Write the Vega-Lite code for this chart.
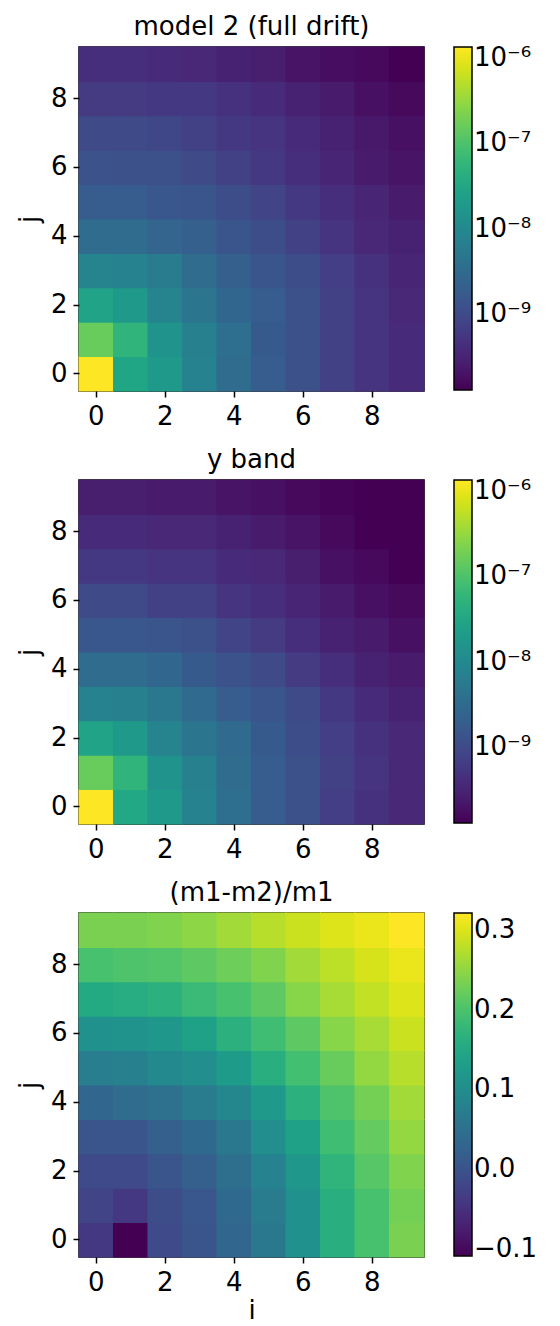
{
  "$schema": "https://vega.github.io/schema/vega-lite/v6.json",
  "padding": {"left": 15, "top": 13, "right": 5, "bottom": 2},
  "config": {
    "font": "DejaVu Sans",
    "view": {"stroke": "#000", "strokeWidth": 1.5},
    "axis": {"domain": false, "grid": false, "tickColor": "#000", "tickSize": 6, "tickWidth": 1.5, "labelFontSize": 26, "labelColor": "#000", "labelPadding": 6, "titleFontSize": 26, "titleFontWeight": "normal", "titleColor": "#000", "titlePadding": 8},
    "axisX": {"titlePadding": 2},
    "title": {"fontSize": 26, "fontWeight": "normal", "color": "#000", "offset": 6, "anchor": "middle"},
    "legend": {"gradientLength": 343, "gradientThickness": 18, "gradientStrokeColor": "#000", "gradientStrokeWidth": 1.5, "labelFontSize": 26, "labelColor": "#000", "labelOffset": 11, "offset": 30, "padding": 0, "titlePadding": 0}
  },
  "datasets": {
    "model2": [
      {"i": 0, "j": 0, "v": 1.34e-6}, {"i": 1, "j": 0, "v": 3.04e-8}, {"i": 2, "j": 0, "v": 1.91e-8}, {"i": 3, "j": 0, "v": 7.61e-9}, {"i": 4, "j": 0, "v": 3.31e-9}, {"i": 5, "j": 0, "v": 1.90e-9}, {"i": 6, "j": 0, "v": 1.20e-9}, {"i": 7, "j": 0, "v": 7.55e-10}, {"i": 8, "j": 0, "v": 5.22e-10}, {"i": 9, "j": 0, "v": 3.95e-10},
      {"i": 0, "j": 1, "v": 1.60e-7}, {"i": 1, "j": 1, "v": 5.30e-8}, {"i": 2, "j": 1, "v": 1.45e-8}, {"i": 3, "j": 1, "v": 6.94e-9}, {"i": 4, "j": 1, "v": 3.63e-9}, {"i": 5, "j": 1, "v": 1.73e-9}, {"i": 6, "j": 1, "v": 1.20e-9}, {"i": 7, "j": 1, "v": 7.55e-10}, {"i": 8, "j": 1, "v": 5.22e-10}, {"i": 9, "j": 1, "v": 3.95e-10},
      {"i": 0, "j": 2, "v": 2.77e-8}, {"i": 1, "j": 2, "v": 1.91e-8}, {"i": 2, "j": 2, "v": 8.34e-9}, {"i": 3, "j": 2, "v": 4.80e-9}, {"i": 4, "j": 2, "v": 2.75e-9}, {"i": 5, "j": 2, "v": 1.90e-9}, {"i": 6, "j": 2, "v": 1.20e-9}, {"i": 7, "j": 2, "v": 7.55e-10}, {"i": 8, "j": 2, "v": 5.22e-10}, {"i": 9, "j": 2, "v": 3.61e-10},
      {"i": 0, "j": 3, "v": 8.34e-9}, {"i": 1, "j": 3, "v": 7.61e-9}, {"i": 2, "j": 3, "v": 5.77e-9}, {"i": 3, "j": 3, "v": 3.31e-9}, {"i": 4, "j": 3, "v": 2.09e-9}, {"i": 5, "j": 3, "v": 1.44e-9}, {"i": 6, "j": 3, "v": 1.09e-9}, {"i": 7, "j": 3, "v": 6.89e-10}, {"i": 8, "j": 3, "v": 4.76e-10}, {"i": 9, "j": 3, "v": 3.29e-10},
      {"i": 0, "j": 4, "v": 3.31e-9}, {"i": 1, "j": 4, "v": 3.31e-9}, {"i": 2, "j": 4, "v": 2.51e-9}, {"i": 3, "j": 4, "v": 2.09e-9}, {"i": 4, "j": 4, "v": 1.44e-9}, {"i": 5, "j": 4, "v": 1.09e-9}, {"i": 6, "j": 4, "v": 7.55e-10}, {"i": 7, "j": 4, "v": 5.22e-10}, {"i": 8, "j": 4, "v": 3.61e-10}, {"i": 9, "j": 4, "v": 3.00e-10},
      {"i": 0, "j": 5, "v": 1.90e-9}, {"i": 1, "j": 5, "v": 1.90e-9}, {"i": 2, "j": 5, "v": 1.58e-9}, {"i": 3, "j": 5, "v": 1.44e-9}, {"i": 4, "j": 5, "v": 1.09e-9}, {"i": 5, "j": 5, "v": 8.28e-10}, {"i": 6, "j": 5, "v": 5.73e-10}, {"i": 7, "j": 5, "v": 4.34e-10}, {"i": 8, "j": 5, "v": 3.29e-10}, {"i": 9, "j": 5, "v": 2.49e-10},
      {"i": 0, "j": 6, "v": 1.32e-9}, {"i": 1, "j": 6, "v": 1.20e-9}, {"i": 2, "j": 6, "v": 1.20e-9}, {"i": 3, "j": 6, "v": 9.97e-10}, {"i": 4, "j": 6, "v": 7.55e-10}, {"i": 5, "j": 6, "v": 5.73e-10}, {"i": 6, "j": 6, "v": 4.34e-10}, {"i": 7, "j": 6, "v": 3.29e-10}, {"i": 8, "j": 6, "v": 2.49e-10}, {"i": 9, "j": 6, "v": 2.07e-10},
      {"i": 0, "j": 7, "v": 9.97e-10}, {"i": 1, "j": 7, "v": 9.97e-10}, {"i": 2, "j": 7, "v": 9.09e-10}, {"i": 3, "j": 7, "v": 7.55e-10}, {"i": 4, "j": 7, "v": 5.73e-10}, {"i": 5, "j": 7, "v": 5.22e-10}, {"i": 6, "j": 7, "v": 3.95e-10}, {"i": 7, "j": 7, "v": 3.00e-10}, {"i": 8, "j": 7, "v": 2.28e-10}, {"i": 9, "j": 7, "v": 1.89e-10},
      {"i": 0, "j": 8, "v": 6.28e-10}, {"i": 1, "j": 8, "v": 6.28e-10}, {"i": 2, "j": 8, "v": 5.73e-10}, {"i": 3, "j": 8, "v": 5.73e-10}, {"i": 4, "j": 8, "v": 4.76e-10}, {"i": 5, "j": 8, "v": 3.95e-10}, {"i": 6, "j": 8, "v": 3.00e-10}, {"i": 7, "j": 8, "v": 2.49e-10}, {"i": 8, "j": 8, "v": 1.89e-10}, {"i": 9, "j": 8, "v": 1.57e-10},
      {"i": 0, "j": 9, "v": 4.34e-10}, {"i": 1, "j": 9, "v": 4.34e-10}, {"i": 2, "j": 9, "v": 3.95e-10}, {"i": 3, "j": 9, "v": 3.61e-10}, {"i": 4, "j": 9, "v": 3.00e-10}, {"i": 5, "j": 9, "v": 2.73e-10}, {"i": 6, "j": 9, "v": 2.07e-10}, {"i": 7, "j": 9, "v": 1.72e-10}, {"i": 8, "j": 9, "v": 1.57e-10}, {"i": 9, "j": 9, "v": 1.31e-10}
    ],
    "yband": [
      {"i": 0, "j": 0, "v": 1.34e-6}, {"i": 1, "j": 0, "v": 3.33e-8}, {"i": 2, "j": 0, "v": 1.91e-8}, {"i": 3, "j": 0, "v": 7.61e-9}, {"i": 4, "j": 0, "v": 3.63e-9}, {"i": 5, "j": 0, "v": 1.90e-9}, {"i": 6, "j": 0, "v": 1.20e-9}, {"i": 7, "j": 0, "v": 6.89e-10}, {"i": 8, "j": 0, "v": 4.76e-10}, {"i": 9, "j": 0, "v": 3.61e-10},
      {"i": 0, "j": 1, "v": 1.60e-7}, {"i": 1, "j": 1, "v": 5.30e-8}, {"i": 2, "j": 1, "v": 1.45e-8}, {"i": 3, "j": 1, "v": 6.94e-9}, {"i": 4, "j": 1, "v": 3.31e-9}, {"i": 5, "j": 1, "v": 1.90e-9}, {"i": 6, "j": 1, "v": 1.20e-9}, {"i": 7, "j": 1, "v": 7.55e-10}, {"i": 8, "j": 1, "v": 5.22e-10}, {"i": 9, "j": 1, "v": 3.61e-10},
      {"i": 0, "j": 2, "v": 2.77e-8}, {"i": 1, "j": 2, "v": 1.91e-8}, {"i": 2, "j": 2, "v": 8.34e-9}, {"i": 3, "j": 2, "v": 4.80e-9}, {"i": 4, "j": 2, "v": 3.02e-9}, {"i": 5, "j": 2, "v": 1.73e-9}, {"i": 6, "j": 2, "v": 1.09e-9}, {"i": 7, "j": 2, "v": 6.89e-10}, {"i": 8, "j": 2, "v": 4.76e-10}, {"i": 9, "j": 2, "v": 3.61e-10},
      {"i": 0, "j": 3, "v": 7.61e-9}, {"i": 1, "j": 3, "v": 6.94e-9}, {"i": 2, "j": 3, "v": 5.26e-9}, {"i": 3, "j": 3, "v": 3.02e-9}, {"i": 4, "j": 3, "v": 1.90e-9}, {"i": 5, "j": 3, "v": 1.44e-9}, {"i": 6, "j": 3, "v": 9.97e-10}, {"i": 7, "j": 3, "v": 5.73e-10}, {"i": 8, "j": 3, "v": 3.95e-10}, {"i": 9, "j": 3, "v": 3.00e-10},
      {"i": 0, "j": 4, "v": 3.31e-9}, {"i": 1, "j": 4, "v": 3.31e-9}, {"i": 2, "j": 4, "v": 2.75e-9}, {"i": 3, "j": 4, "v": 1.73e-9}, {"i": 4, "j": 4, "v": 1.32e-9}, {"i": 5, "j": 4, "v": 9.97e-10}, {"i": 6, "j": 4, "v": 6.28e-10}, {"i": 7, "j": 4, "v": 4.34e-10}, {"i": 8, "j": 4, "v": 3.00e-10}, {"i": 9, "j": 4, "v": 2.49e-10},
      {"i": 0, "j": 5, "v": 1.58e-9}, {"i": 1, "j": 5, "v": 1.58e-9}, {"i": 2, "j": 5, "v": 1.44e-9}, {"i": 3, "j": 5, "v": 1.20e-9}, {"i": 4, "j": 5, "v": 8.28e-10}, {"i": 5, "j": 5, "v": 6.28e-10}, {"i": 6, "j": 5, "v": 4.34e-10}, {"i": 7, "j": 5, "v": 3.00e-10}, {"i": 8, "j": 5, "v": 2.49e-10}, {"i": 9, "j": 5, "v": 1.89e-10},
      {"i": 0, "j": 6, "v": 9.97e-10}, {"i": 1, "j": 6, "v": 9.97e-10}, {"i": 2, "j": 6, "v": 7.55e-10}, {"i": 3, "j": 6, "v": 7.55e-10}, {"i": 4, "j": 6, "v": 5.22e-10}, {"i": 5, "j": 6, "v": 4.34e-10}, {"i": 6, "j": 6, "v": 3.29e-10}, {"i": 7, "j": 6, "v": 2.49e-10}, {"i": 8, "j": 6, "v": 1.89e-10}, {"i": 9, "j": 6, "v": 1.57e-10},
      {"i": 0, "j": 7, "v": 5.73e-10}, {"i": 1, "j": 7, "v": 5.73e-10}, {"i": 2, "j": 7, "v": 5.22e-10}, {"i": 3, "j": 7, "v": 5.22e-10}, {"i": 4, "j": 7, "v": 3.95e-10}, {"i": 5, "j": 7, "v": 3.61e-10}, {"i": 6, "j": 7, "v": 2.73e-10}, {"i": 7, "j": 7, "v": 1.89e-10}, {"i": 8, "j": 7, "v": 1.57e-10}, {"i": 9, "j": 7, "v": 1.31e-10},
      {"i": 0, "j": 8, "v": 3.95e-10}, {"i": 1, "j": 8, "v": 3.95e-10}, {"i": 2, "j": 8, "v": 3.61e-10}, {"i": 3, "j": 8, "v": 3.61e-10}, {"i": 4, "j": 8, "v": 3.00e-10}, {"i": 5, "j": 8, "v": 2.49e-10}, {"i": 6, "j": 8, "v": 2.07e-10}, {"i": 7, "j": 8, "v": 1.57e-10}, {"i": 8, "j": 8, "v": 1.31e-10}, {"i": 9, "j": 8, "v": 1.31e-10},
      {"i": 0, "j": 9, "v": 2.73e-10}, {"i": 1, "j": 9, "v": 2.73e-10}, {"i": 2, "j": 9, "v": 2.49e-10}, {"i": 3, "j": 9, "v": 2.49e-10}, {"i": 4, "j": 9, "v": 2.07e-10}, {"i": 5, "j": 9, "v": 1.89e-10}, {"i": 6, "j": 9, "v": 1.57e-10}, {"i": 7, "j": 9, "v": 1.40e-10}, {"i": 8, "j": 9, "v": 1.31e-10}, {"i": 9, "j": 9, "v": 1.31e-10}
    ],
    "reldiff": [
      {"i": 0, "j": 0, "v": -0.040}, {"i": 1, "j": 0, "v": -0.109}, {"i": 2, "j": 0, "v": -0.014}, {"i": 3, "j": 0, "v": 0.003}, {"i": 4, "j": 0, "v": 0.033}, {"i": 5, "j": 0, "v": 0.063}, {"i": 6, "j": 0, "v": 0.106}, {"i": 7, "j": 0, "v": 0.162}, {"i": 8, "j": 0, "v": 0.196}, {"i": 9, "j": 0, "v": 0.235},
      {"i": 0, "j": 1, "v": -0.023}, {"i": 1, "j": 1, "v": -0.040}, {"i": 2, "j": 1, "v": -0.010}, {"i": 3, "j": 1, "v": 0.007}, {"i": 4, "j": 1, "v": 0.037}, {"i": 5, "j": 1, "v": 0.067}, {"i": 6, "j": 1, "v": 0.106}, {"i": 7, "j": 1, "v": 0.162}, {"i": 8, "j": 1, "v": 0.196}, {"i": 9, "j": 1, "v": 0.231},
      {"i": 0, "j": 2, "v": -0.014}, {"i": 1, "j": 2, "v": -0.014}, {"i": 2, "j": 2, "v": 0.003}, {"i": 3, "j": 2, "v": 0.020}, {"i": 4, "j": 2, "v": 0.046}, {"i": 5, "j": 2, "v": 0.080}, {"i": 6, "j": 2, "v": 0.119}, {"i": 7, "j": 2, "v": 0.171}, {"i": 8, "j": 2, "v": 0.209}, {"i": 9, "j": 2, "v": 0.239},
      {"i": 0, "j": 3, "v": 0.003}, {"i": 1, "j": 3, "v": 0.003}, {"i": 2, "j": 3, "v": 0.020}, {"i": 3, "j": 3, "v": 0.037}, {"i": 4, "j": 3, "v": 0.063}, {"i": 5, "j": 3, "v": 0.102}, {"i": 6, "j": 3, "v": 0.136}, {"i": 7, "j": 3, "v": 0.188}, {"i": 8, "j": 3, "v": 0.218}, {"i": 9, "j": 3, "v": 0.252},
      {"i": 0, "j": 4, "v": 0.033}, {"i": 1, "j": 4, "v": 0.042}, {"i": 2, "j": 4, "v": 0.050}, {"i": 3, "j": 4, "v": 0.067}, {"i": 4, "j": 4, "v": 0.089}, {"i": 5, "j": 4, "v": 0.123}, {"i": 6, "j": 4, "v": 0.166}, {"i": 7, "j": 4, "v": 0.201}, {"i": 8, "j": 4, "v": 0.231}, {"i": 9, "j": 4, "v": 0.261},
      {"i": 0, "j": 5, "v": 0.072}, {"i": 1, "j": 5, "v": 0.076}, {"i": 2, "j": 5, "v": 0.093}, {"i": 3, "j": 5, "v": 0.102}, {"i": 4, "j": 5, "v": 0.128}, {"i": 5, "j": 5, "v": 0.162}, {"i": 6, "j": 5, "v": 0.192}, {"i": 7, "j": 5, "v": 0.222}, {"i": 8, "j": 5, "v": 0.252}, {"i": 9, "j": 5, "v": 0.274},
      {"i": 0, "j": 6, "v": 0.106}, {"i": 1, "j": 6, "v": 0.110}, {"i": 2, "j": 6, "v": 0.119}, {"i": 3, "j": 6, "v": 0.136}, {"i": 4, "j": 6, "v": 0.166}, {"i": 5, "j": 6, "v": 0.188}, {"i": 6, "j": 6, "v": 0.214}, {"i": 7, "j": 6, "v": 0.244}, {"i": 8, "j": 6, "v": 0.265}, {"i": 9, "j": 6, "v": 0.287},
      {"i": 0, "j": 7, "v": 0.153}, {"i": 1, "j": 7, "v": 0.158}, {"i": 2, "j": 7, "v": 0.166}, {"i": 3, "j": 7, "v": 0.183}, {"i": 4, "j": 7, "v": 0.196}, {"i": 5, "j": 7, "v": 0.214}, {"i": 6, "j": 7, "v": 0.244}, {"i": 7, "j": 7, "v": 0.265}, {"i": 8, "j": 7, "v": 0.282}, {"i": 9, "j": 7, "v": 0.300},
      {"i": 0, "j": 8, "v": 0.196}, {"i": 1, "j": 8, "v": 0.201}, {"i": 2, "j": 8, "v": 0.205}, {"i": 3, "j": 8, "v": 0.214}, {"i": 4, "j": 8, "v": 0.226}, {"i": 5, "j": 8, "v": 0.239}, {"i": 6, "j": 8, "v": 0.261}, {"i": 7, "j": 8, "v": 0.278}, {"i": 8, "j": 8, "v": 0.295}, {"i": 9, "j": 8, "v": 0.308},
      {"i": 0, "j": 9, "v": 0.235}, {"i": 1, "j": 9, "v": 0.235}, {"i": 2, "j": 9, "v": 0.239}, {"i": 3, "j": 9, "v": 0.248}, {"i": 4, "j": 9, "v": 0.261}, {"i": 5, "j": 9, "v": 0.274}, {"i": 6, "j": 9, "v": 0.287}, {"i": 7, "j": 9, "v": 0.300}, {"i": 8, "j": 9, "v": 0.308}, {"i": 9, "j": 9, "v": 0.321}
    ]
  },
  "spacing": 16,
  "resolve": {"scale": {"color": "independent"}, "legend": {"color": "independent"}},
  "vconcat": [
    {
      "data": {"name": "model2"},
      "title": "model 2 (full drift)",
      "width": 345,
      "height": 344,
      "mark": {"type": "rect", "width": {"band": 1.03}, "height": {"band": 1.03}},
      "encoding": {
        "x": {"field": "i", "type": "ordinal", "scale": {"paddingInner": 0, "paddingOuter": 0}, "axis": {"values": [0, 2, 4, 6, 8], "labelAngle": 0, "title": null}},
        "y": {"field": "j", "type": "ordinal", "sort": "descending", "scale": {"paddingInner": 0, "paddingOuter": 0}, "axis": {"values": [0, 2, 4, 6, 8], "title": "j"}},
        "color": {"field": "v", "type": "quantitative", "scale": {"type": "log", "scheme": "viridis", "domain": [1.31e-10, 1.34e-6]}, "legend": {"title": null, "values": [1e-9, 1e-8, 1e-7, 1e-6], "labelExpr": "datum.value >= 9e-7 ? '10⁻⁶' : datum.value >= 9e-8 ? '10⁻⁷' : datum.value >= 9e-9 ? '10⁻⁸' : '10⁻⁹'"}}
      }
    },
    {
      "data": {"name": "yband"},
      "title": "y band",
      "width": 345,
      "height": 344,
      "mark": {"type": "rect", "width": {"band": 1.03}, "height": {"band": 1.03}},
      "encoding": {
        "x": {"field": "i", "type": "ordinal", "scale": {"paddingInner": 0, "paddingOuter": 0}, "axis": {"values": [0, 2, 4, 6, 8], "labelAngle": 0, "title": null}},
        "y": {"field": "j", "type": "ordinal", "sort": "descending", "scale": {"paddingInner": 0, "paddingOuter": 0}, "axis": {"values": [0, 2, 4, 6, 8], "title": "j"}},
        "color": {"field": "v", "type": "quantitative", "scale": {"type": "log", "scheme": "viridis", "domain": [1.31e-10, 1.34e-6]}, "legend": {"title": null, "values": [1e-9, 1e-8, 1e-7, 1e-6], "labelExpr": "datum.value >= 9e-7 ? '10⁻⁶' : datum.value >= 9e-8 ? '10⁻⁷' : datum.value >= 9e-9 ? '10⁻⁸' : '10⁻⁹'"}}
      }
    },
    {
      "data": {"name": "reldiff"},
      "title": "(m1-m2)/m1",
      "width": 345,
      "height": 344,
      "mark": {"type": "rect", "width": {"band": 1.03}, "height": {"band": 1.03}},
      "encoding": {
        "x": {"field": "i", "type": "ordinal", "scale": {"paddingInner": 0, "paddingOuter": 0}, "axis": {"values": [0, 2, 4, 6, 8], "labelAngle": 0, "title": "i"}},
        "y": {"field": "j", "type": "ordinal", "sort": "descending", "scale": {"paddingInner": 0, "paddingOuter": 0}, "axis": {"values": [0, 2, 4, 6, 8], "title": "j"}},
        "color": {"field": "v", "type": "quantitative", "scale": {"scheme": "viridis", "domain": [-0.109, 0.321]}, "legend": {"title": null, "values": [-0.1, 0, 0.1, 0.2, 0.3], "format": ".1f"}}
      }
    }
  ]
}
